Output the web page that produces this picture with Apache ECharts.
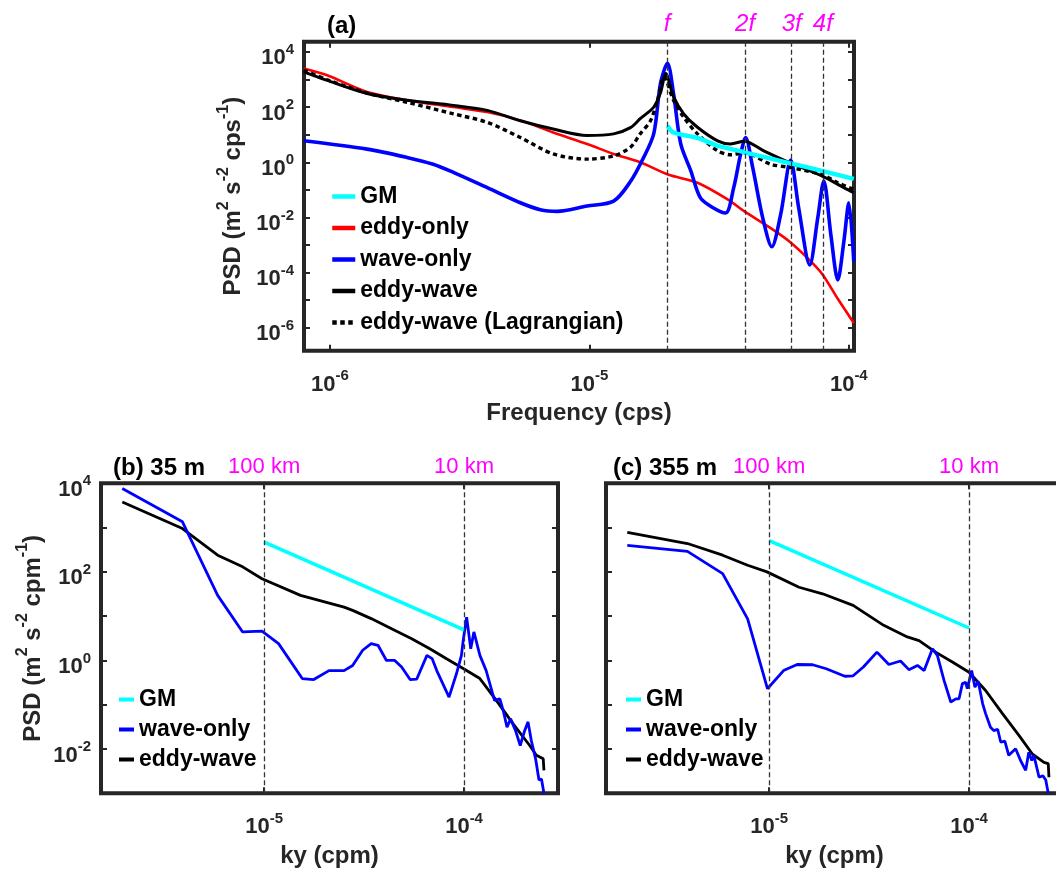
<!DOCTYPE html>
<html>
<head>
<meta charset="utf-8">
<title>PSD spectra</title>
<script src="https://cdn.jsdelivr.net/npm/echarts@6/dist/echarts.min.js"></script>
<style>
  html, body { margin: 0; padding: 0; background: #fff; overflow: hidden; }
  /* wider than the window: panel (c) runs past the right edge, as in the figure */
  #main { width: 1070px; height: 873px; }
</style>
</head>
<body>
<div id="main"></div>
<script>
// ---------- panel (a): frequency spectra ----------
const freqEddyOnly = [7.93e-7, 9.7e-7, 1.39e-6, 1.98e-6, 2.99e-6, 4.04e-6, 5.42e-6, 7.25e-6, 9.8e-6, 1.24e-5, 1.57e-5, 2.01e-5, 2.61e-5, 3.41e-5, 3.96e-5, 5.0e-5, 5.9e-5, 6.95e-5, 7.87e-5, 9.08e-5, 1.045e-4];
const psdEddyOnly  = [2500, 1450, 355, 178, 100, 66, 33, 12, 4.6, 2.0, 1.0, 0.36, 0.18, 0.045, 0.0166, 0.0041, 0.00135, 3.3e-4, 9.3e-5, 1.1e-5, 1.5e-6];

const freqWaveOnly = [7.93e-7, 1.39e-6, 1.98e-6, 2.5e-6, 2.99e-6, 4.04e-6, 5.42e-6, 6.47e-6, 7.52e-6, 9.8e-6, 1.24e-5, 1.44e-5, 1.6e-5, 1.77e-5, 1.88e-5, 2.0e-5, 2.11e-5, 2.25e-5, 2.46e-5, 2.68e-5, 3.01e-5, 3.35e-5, 3.6e-5, 3.83e-5, 4.0e-5, 4.26e-5, 4.66e-5, 5.05e-5, 5.46e-5, 5.97e-5, 6.41e-5, 7.07e-5, 7.59e-5, 8.01e-5, 8.53e-5, 9.07e-5, 9.57e-5, 1.0e-4, 1.045e-4];
const psdWaveOnly  = [6.0, 3.0, 1.5, 0.85, 0.43, 0.12, 0.034, 0.019, 0.0166, 0.026, 0.039, 0.2, 1.2, 10.7, 720, 3900, 310, 4.6, 0.49, 0.051, 0.022, 0.0145, 0.12, 2.0, 7.9, 0.65, 0.0095, 8.7e-4, 0.0126, 1.2, 0.022, 1.9e-4, 0.0095, 0.21, 2.3e-3, 5.4e-5, 1.35e-3, 0.034, 2.5e-4];

const freqEddyWave = [7.93e-7, 9.7e-7, 1.39e-6, 1.98e-6, 2.99e-6, 4.04e-6, 5.42e-6, 7.25e-6, 9.8e-6, 1.24e-5, 1.44e-5, 1.57e-5, 1.77e-5, 1.88e-5, 1.97e-5, 2.11e-5, 2.31e-5, 2.61e-5, 3.12e-5, 3.5e-5, 3.96e-5, 4.7e-5, 5.9e-5, 7.87e-5, 9.57e-5, 1.045e-4];
const psdEddyWave  = [1900, 950, 310, 178, 115, 76, 32, 16, 9.3, 10.7, 18, 38, 100, 330, 1650, 240, 57, 18.6, 6.0, 4.6, 5.8, 2.6, 0.98, 0.32, 0.12, 0.079];

const freqLagr = [7.93e-7, 9.7e-7, 1.39e-6, 1.98e-6, 2.99e-6, 4.04e-6, 5.42e-6, 7.25e-6, 9.8e-6, 1.24e-5, 1.44e-5, 1.57e-5, 1.72e-5, 1.83e-5, 1.94e-5, 2.11e-5, 2.31e-5, 2.61e-5, 3.12e-5, 3.5e-5, 3.96e-5, 5.0e-5, 5.9e-5, 7.87e-5, 9.07e-5, 1.045e-4];
const psdLagr  = [2200, 1000, 324, 150, 57, 28, 7.9, 2.0, 1.3, 1.7, 3.5, 10.7, 32, 178, 1250, 178, 43, 10.7, 2.6, 1.87, 2.2, 0.85, 0.65, 0.36, 0.18, 0.105];

const freqGM = [2.0e-5, 2.11e-5, 2.61e-5, 3.12e-5, 3.96e-5, 5.9e-5, 7.87e-5, 1.045e-4];
const psdGM  = [21, 12, 7.6, 4.0, 2.3, 0.93, 0.49, 0.25];

const harmonicFreqs  = [2.0e-5, 4.0e-5, 6.0e-5, 8.0e-5];
const harmonicLabels = ['f', '2f', '3f', '4f'];

// ---------- panel (b): 35 m wavenumber spectra ----------
const kWaveB   = [1.95e-6, 3.9e-6, 5.85e-6, 7.8e-6, 9.75e-6, 1.18e-5, 1.55e-5, 1.77e-5, 2.11e-5, 2.51e-5, 2.77e-5, 3.11e-5, 3.43e-5, 3.71e-5, 4.09e-5, 4.5e-5, 4.87e-5, 5.37e-5, 5.8e-5, 6.52e-5, 6.92e-5, 7.3e-5, 8.41e-5, 9.16e-5, 9.7e-5, 9.9e-5, 1.03e-4, 1.08e-4, 1.12e-4, 1.2e-4, 1.29e-4, 1.42e-4, 1.51e-4, 1.57e-4, 1.64e-4, 1.71e-4, 1.81e-4, 1.91e-4, 2.01e-4, 2.09e-4, 2.17e-4, 2.28e-4, 2.37e-4, 2.44e-4, 2.51e-4];
const psdWaveB = [7600, 1350, 29.5, 4.4, 4.6, 2.4, 0.39, 0.37, 0.59, 0.59, 0.77, 1.7, 2.4, 2.2, 1.0, 1.0, 0.71, 0.37, 0.38, 1.3, 1.1, 0.59, 0.148, 0.5, 1.3, 2.8, 9.5, 1.84, 4.4, 1.3, 0.59, 0.125, 0.136, 0.074, 0.031, 0.048, 0.026, 0.012, 0.026, 0.041, 0.0156, 0.006, 0.002, 0.0021, 0.001];

const kEddyWaveB   = [1.95e-6, 3.9e-6, 5.85e-6, 7.8e-6, 9.75e-6, 1.52e-5, 2.51e-5, 2.77e-5, 3.43e-5, 4.34e-5, 5.47e-5, 6.74e-5, 8.17e-5, 9.9e-5, 1.2e-4, 1.45e-4, 1.76e-4, 2.13e-4, 2.3e-4, 2.49e-4, 2.51e-4];
const psdEddyWaveB = [3800, 950, 238, 130, 70, 29.5, 16, 13.5, 8.8, 5.2, 3.1, 1.84, 1.09, 0.66, 0.39, 0.125, 0.037, 0.012, 0.0072, 0.006, 0.0033];

const kGMB   = [1e-5, 1e-4];
const psdGMB = [470, 4.9];

// ---------- panel (c): 355 m wavenumber spectra ----------
const kWaveC   = [1.95e-6, 3.9e-6, 5.85e-6, 7.8e-6, 9.8e-6, 1.18e-5, 1.38e-5, 1.65e-5, 1.93e-5, 2.39e-5, 2.63e-5, 2.96e-5, 3.46e-5, 3.97e-5, 4.54e-5, 5.0e-5, 5.52e-5, 5.96e-5, 6.56e-5, 6.94e-5, 7.5e-5, 8.1e-5, 8.59e-5, 8.91e-5, 9.26e-5, 9.62e-5, 9.8e-5, 1.03e-4, 1.07e-4, 1.11e-4, 1.17e-4, 1.21e-4, 1.28e-4, 1.33e-4, 1.39e-4, 1.44e-4, 1.51e-4, 1.58e-4, 1.71e-4, 1.81e-4, 1.92e-4, 1.99e-4, 2.06e-4, 2.11e-4, 2.24e-4, 2.34e-4, 2.42e-4, 2.49e-4];
const psdWaveC = [395, 290, 91, 8.7, 0.23, 0.59, 0.81, 0.8, 0.65, 0.44, 0.45, 0.71, 1.54, 0.81, 0.97, 0.62, 0.77, 0.59, 1.84, 1.3, 0.35, 0.115, 0.136, 0.136, 0.3, 0.32, 0.23, 0.59, 0.25, 0.34, 0.105, 0.063, 0.031, 0.026, 0.028, 0.0144, 0.015, 0.0072, 0.0101, 0.0055, 0.0033, 0.0085, 0.0055, 0.0072, 0.0023, 0.0025, 0.002, 0.001];

const kEddyWaveC   = [1.95e-6, 3.9e-6, 5.85e-6, 7.8e-6, 9.75e-6, 1.41e-5, 1.85e-5, 2.63e-5, 3.74e-5, 4.91e-5, 5.62e-5, 6.8e-5, 8.25e-5, 1.0e-4, 1.21e-4, 1.47e-4, 1.78e-4, 2.07e-4, 2.37e-4, 2.49e-4, 2.51e-4];
const psdEddyWaveC = [775, 437, 238, 141, 100, 45, 32, 17.5, 6.2, 3.4, 2.8, 1.54, 0.92, 0.54, 0.21, 0.063, 0.02, 0.0078, 0.005, 0.0047, 0.0023];

const kGMC   = [1e-5, 1e-4];
const psdGMC = [510, 5.4];

const scaleMarks  = [1e-5, 1e-4];
const scaleLabels = ['100 km', '10 km'];

// axis limits (log10 of the plotted range)
const xLimA = [-6.1, -3.98];
const yLimA = [-6.83, 4.37];
const xLimBC = [-5.8165, -3.53];
const yLimBC = [-3, 4];

// ---------- helpers ----------
const FONT = '"Liberation Sans", Arial, Helvetica, sans-serif';
const INK = '#262626';
const MAGENTA = '#ff00ff';

function logPairs(xs, ys) {
  return xs.map(function (x, i) { return [Math.log10(x), Math.log10(ys[i])]; });
}

function powLabel(evenOnly) {
  return function (v) {
    const e = Math.round(v);
    if (Math.abs(v - e) > 1e-6) return '';
    if (evenOnly && e % 2 !== 0) return '';
    return '{b|10}{s|' + e + '}';
  };
}

const tickRich = {
  b: { fontFamily: FONT, fontSize: 22, fontWeight: 'bold', color: INK, lineHeight: 27, verticalAlign: 'bottom' },
  s: { fontFamily: FONT, fontSize: 15, fontWeight: 'bold', color: INK, verticalAlign: 'top' }
};

const nameRich = {
  b: { fontFamily: FONT, fontSize: 24, fontWeight: 'bold', color: INK, lineHeight: 30, verticalAlign: 'bottom' },
  s: { fontFamily: FONT, fontSize: 16, fontWeight: 'bold', color: INK, verticalAlign: 'top' }
};

function baseAxis(gridIndex, lim, position) {
  return {
    type: 'value',
    gridIndex: gridIndex,
    position: position,
    min: lim[0],
    max: lim[1],
    splitNumber: 10,
    minInterval: 1,
    maxInterval: 1,
    axisLine: { show: false, onZero: false },
    axisTick: { show: true, inside: true, length: 6, lineStyle: { color: INK, width: 2 } },
    splitLine: { show: false },
    axisLabel: { show: false }
  };
}

function bottomAxis(gridIndex, lim, name) {
  const ax = baseAxis(gridIndex, lim, 'bottom');
  ax.axisLabel = { show: true, margin: 18, formatter: powLabel(false), rich: tickRich };
  ax.name = name;
  ax.nameLocation = 'middle';
  ax.nameGap = 51;
  ax.nameTextStyle = { fontFamily: FONT, fontSize: 24, fontWeight: 'bold', color: INK };
  return ax;
}

function leftAxis(gridIndex, lim, unit, withLabels) {
  const ax = baseAxis(gridIndex, lim, 'left');
  if (withLabels) {
    ax.axisLabel = { show: true, margin: 10, padding: [8, 0, 0, 0], formatter: powLabel(true), rich: tickRich };
    ax.name = '{b|PSD (m}{s|2}{b| s}{s|-2}{b| ' + unit + '}{s|-1}{b|)}';
    ax.nameLocation = 'middle';
    ax.nameGap = 56;
    ax.nameRotate = 90;
    ax.nameTextStyle = { fontFamily: FONT, fontSize: 24, fontWeight: 'bold', color: INK, rich: nameRich };
  }
  return ax;
}

function line(name, xi, data, color, width, extra) {
  const s = {
    name: name,
    type: 'line',
    xAxisIndex: xi,
    yAxisIndex: xi,
    data: data,
    symbol: 'none',
    showSymbol: false,
    silent: true,
    lineStyle: { color: color, width: width },
    itemStyle: { color: color },
    emphasis: { disabled: true }
  };
  return Object.assign(s, extra || {});
}

function guideLines(values, labels, fontSize, italic) {
  return {
    silent: true,
    symbol: ['none', 'none'],
    lineStyle: { color: '#333', width: 1.3, type: [5, 3] },
    label: {
      show: true, position: 'end', distance: 5, formatter: '{b}',
      color: MAGENTA, fontFamily: FONT, fontSize: fontSize,
      fontStyle: italic ? 'italic' : 'normal', fontWeight: 'normal'
    },
    emphasis: { disabled: true },
    data: values.map(function (v, i) { return { name: labels[i], xAxis: Math.log10(v) }; })
  };
}

const frame = { show: true, borderColor: INK, borderWidth: 4, backgroundColor: 'transparent' };
const titleStyle = { fontFamily: FONT, fontSize: 24, fontWeight: 'bold', color: '#000' };
const legendText = { fontFamily: FONT, fontSize: 23, fontWeight: 'bold', color: '#000' };
// legend shows the line sample only (no marker)
const legendNoMarker = { opacity: 0 };

const option = {
  animation: false,
  backgroundColor: '#fff',
  title: [
    { text: '(a)', left: 327, top: 14, padding: 0, textStyle: titleStyle },
    { text: '(b) 35 m', left: 113, top: 456, padding: 0, textStyle: titleStyle },
    { text: '(c) 355 m', left: 613, top: 456, padding: 0, textStyle: titleStyle }
  ],
  grid: [
    Object.assign({ left: 304, top: 41.7, width: 550, height: 309 }, frame),
    Object.assign({ left: 101, top: 483.3, width: 457, height: 310 }, frame),
    Object.assign({ left: 606, top: 483.3, width: 457, height: 310 }, frame)
  ],
  xAxis: [
    bottomAxis(0, xLimA, 'Frequency (cps)'),
    bottomAxis(1, xLimBC, 'ky (cpm)'),
    bottomAxis(2, xLimBC, 'ky (cpm)'),
    baseAxis(0, xLimA, 'top'),
    baseAxis(1, xLimBC, 'top'),
    baseAxis(2, xLimBC, 'top')
  ],
  yAxis: [
    leftAxis(0, yLimA, 'cps', true),
    leftAxis(1, yLimBC, 'cpm', true),
    leftAxis(2, yLimBC, 'cpm', false),
    baseAxis(0, yLimA, 'right'),
    baseAxis(1, yLimBC, 'right'),
    baseAxis(2, yLimBC, 'right')
  ],
  legend: [
    {
      data: ['GM', 'eddy-only', 'wave-only', 'eddy-wave', 'eddy-wave (Lagrangian)'],
      orient: 'vertical', left: 330, top: 185, padding: 0, itemGap: 8.5,
      itemWidth: 23, itemHeight: 14, selectedMode: false,
      itemStyle: legendNoMarker, lineStyle: { width: 4.5 }, textStyle: legendText
    },
    {
      data: ['GM', 'wave-only', 'eddy-wave'],
      orient: 'vertical', left: 117, top: 688, padding: 0, itemGap: 7,
      itemWidth: 15, itemHeight: 14, selectedMode: false,
      itemStyle: legendNoMarker, lineStyle: { width: 4 }, textStyle: legendText
    },
    {
      data: ['GM', 'wave-only', 'eddy-wave'],
      orient: 'vertical', left: 624, top: 688, padding: 0, itemGap: 7,
      itemWidth: 15, itemHeight: 14, selectedMode: false,
      itemStyle: legendNoMarker, lineStyle: { width: 4 }, textStyle: legendText
    }
  ],
  series: [
    // panel (a)
    line('eddy-only', 0, logPairs(freqEddyOnly, psdEddyOnly), '#ff0000', 2.6, { smooth: 0.3 }),
    line('wave-only', 0, logPairs(freqWaveOnly, psdWaveOnly), '#0000ff', 3.6, { smooth: 0.3 }),
    line('eddy-wave', 0, logPairs(freqEddyWave, psdEddyWave), '#000000', 3, {
      smooth: 0.3,
      markLine: guideLines(harmonicFreqs, harmonicLabels, 24, true)
    }),
    line('eddy-wave (Lagrangian)', 0, logPairs(freqLagr, psdLagr), '#000000', 3.4, {
      smooth: 0.3,
      lineStyle: { color: '#000000', width: 3.4, type: [4.5, 3.5] }
    }),
    line('GM', 0, logPairs(freqGM, psdGM), '#00ffff', 4.4, { smooth: 0.3 }),
    // panel (b)
    line('eddy-wave', 1, logPairs(kEddyWaveB, psdEddyWaveB), '#000000', 2.8, {
      markLine: guideLines(scaleMarks, scaleLabels, 22, false)
    }),
    line('wave-only', 1, logPairs(kWaveB, psdWaveB), '#0000ff', 2.8),
    line('GM', 1, logPairs(kGMB, psdGMB), '#00ffff', 3.5),
    // panel (c)
    line('eddy-wave', 2, logPairs(kEddyWaveC, psdEddyWaveC), '#000000', 2.8, {
      markLine: guideLines(scaleMarks, scaleLabels, 22, false)
    }),
    line('wave-only', 2, logPairs(kWaveC, psdWaveC), '#0000ff', 2.8),
    line('GM', 2, logPairs(kGMC, psdGMC), '#00ffff', 3.5)
  ]
};

const chart = echarts.init(document.getElementById('main'), null, { renderer: 'canvas' });
chart.setOption(option);
</script>
</body>
</html>
